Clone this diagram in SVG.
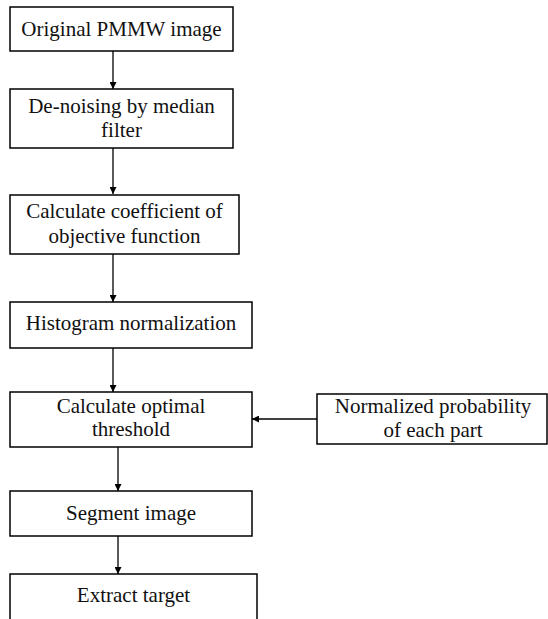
<svg xmlns="http://www.w3.org/2000/svg" width="548" height="619" viewBox="0 0 548 619">
<style>
.box{fill:#fff;stroke:#000;stroke-width:1.5}
.t{font-family:"Liberation Serif","Times New Roman",serif;font-size:21px;fill:#111;text-anchor:middle}
.c{stroke:#000;stroke-width:1.3;fill:none;marker-end:url(#ah)}
</style>
<defs>
<marker id="ah" viewBox="0 0 10 10" refX="10" refY="5" markerWidth="7" markerHeight="7" markerUnits="userSpaceOnUse" orient="auto">
<path d="M0,0 L10,5 L0,10 Z" fill="#000"/>
</marker>
</defs>
<rect width="548" height="619" fill="#fff"/>
<g id="connectors">
<line class="c" x1="113" y1="51" x2="113" y2="89"/>
<line class="c" x1="113" y1="148" x2="113" y2="194"/>
<line class="c" x1="113" y1="254" x2="113" y2="302"/>
<line class="c" x1="113" y1="348" x2="113" y2="392"/>
<line class="c" x1="118" y1="447" x2="118" y2="491"/>
<line class="c" x1="118" y1="536" x2="118" y2="574"/>
<line class="c" x1="317" y1="419" x2="252" y2="419"/>
</g>
<g id="n1"><rect class="box" x="10" y="7" width="223" height="44"/><text class="t" x="121.5" y="36">Original PMMW image</text></g>
<g id="n2"><rect class="box" x="10" y="89" width="223" height="59"/><text class="t" x="121.5" y="113">De-noising by median</text><text class="t" x="121.5" y="137">filter</text></g>
<g id="n3"><rect class="box" x="10" y="195" width="229" height="59"/><text class="t" x="124.5" y="218">Calculate coefficient of</text><text class="t" x="124.5" y="243">objective function</text></g>
<g id="n4"><rect class="box" x="10" y="302" width="242" height="46"/><text class="t" x="131" y="330">Histogram normalization</text></g>
<g id="n5"><rect class="box" x="10" y="392" width="242" height="55"/><text class="t" x="131" y="413">Calculate optimal</text><text class="t" x="131" y="436">threshold</text></g>
<g id="n6"><rect class="box" x="10" y="491" width="242" height="45"/><text class="t" x="131" y="520">Segment image</text></g>
<g id="n7"><rect class="box" x="10" y="574" width="247" height="50"/><text class="t" x="133.5" y="602">Extract target</text></g>
<g id="n8"><rect class="box" x="317" y="394" width="230" height="50"/><text class="t" x="433" y="413">Normalized probability</text><text class="t" x="433" y="437">of each part</text></g>
</svg>
